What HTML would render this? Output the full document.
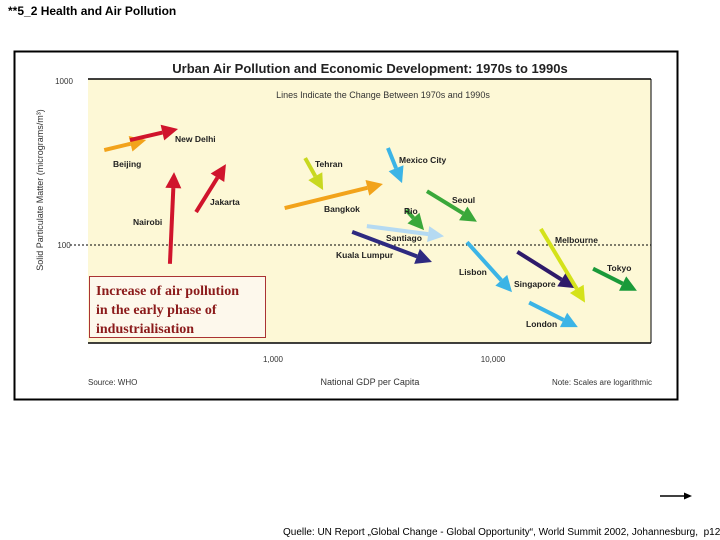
<!DOCTYPE html>
<html><head><meta charset="utf-8"><style>
body{margin:0;width:720px;height:540px;background:#fff;position:relative;overflow:hidden;font-family:"Liberation Sans",sans-serif}
.t{position:absolute;white-space:nowrap}
</style></head><body>
<div class="t" style="left:8px;top:4px;font-size:12px;font-weight:bold">**5_2 Health and Air Pollution</div>
<svg width="720" height="540" style="position:absolute;left:0;top:0">
<rect x="14.5" y="51.5" width="663" height="348" fill="#fff" stroke="#000" stroke-width="2"/>
<rect x="88" y="79" width="563" height="264" fill="#fdf8d6"/>
<line x1="88" y1="79" x2="651" y2="79" stroke="#000" stroke-width="1.5"/>
<line x1="88" y1="343" x2="651" y2="343" stroke="#000" stroke-width="1.5"/>
<line x1="651" y1="79" x2="651" y2="343" stroke="#000" stroke-width="1"/>
<line x1="70" y1="245" x2="651" y2="245" stroke="#000" stroke-dasharray="2,2"/>
<text x="370" y="73" text-anchor="middle" font-size="13" font-weight="bold" fill="#222">Urban Air Pollution and Economic Development: 1970s to 1990s</text>
<text x="383" y="98" text-anchor="middle" font-size="9" fill="#333">Lines Indicate the Change Between 1970s and 1990s</text>
<text transform="translate(43,190) rotate(-90)" text-anchor="middle" font-size="9" fill="#333">Solid Particulate Matter (micrograms/m³)</text>
<text x="64" y="84" text-anchor="middle" font-size="8" fill="#333">1000</text>
<text x="64" y="248" text-anchor="middle" font-size="8" fill="#333">100</text>
<text x="273" y="362" text-anchor="middle" font-size="8" fill="#333">1,000</text>
<text x="493" y="362" text-anchor="middle" font-size="8" fill="#333">10,000</text>
<text x="88" y="385" font-size="8" fill="#333">Source: WHO</text>
<text x="370" y="385" text-anchor="middle" font-size="9" fill="#333">National GDP per Capita</text>
<text x="652" y="385" text-anchor="end" font-size="8" fill="#333">Note: Scales are logarithmic</text>
<g id="arrows"></g>
<line x1="660" y1="496" x2="686" y2="496" stroke="#000" stroke-width="1.5"/>
<polygon points="692,496 684,492.5 684,499.5" fill="#000"/>
</svg>
<div class="t" style="left:89px;top:276px;width:177px;height:62px;border:1.5px solid #a33;background:#fdf8ec;font-family:'Liberation Serif',serif;font-weight:bold;font-size:14px;line-height:19px;color:#8b1a1a;padding:5px 0 0 6px;box-sizing:border-box">Increase of air pollution<br>in the early phase of<br>industrialisation</div>
<div class="t" style="left:283px;top:527px;font-size:10px">Quelle: UN Report „Global Change - Global Opportunity“, World Summit 2002, Johannesburg,&nbsp; p12</div>
<script>
const cities=["Beijing","New Delhi","Nairobi","Jakarta","Tehran","Bangkok","Mexico City","Rio","Seoul","Santiago","Kuala Lumpur","Lisbon","Singapore","Melbourne","Tokyo","London"];
const gdpStart=[171,224,340,447,1400,1130,3330,4030,5010,2670,2290,7620,12900,16500,28500,14600];
const gdpEnd=[265,370,355,611,1690,3160,3860,4860,8450,5990,5280,12200,23600,26200,45100,24300];
const pmStart=[373,429,77,158,334,167,384,163,211,130,120,104,91,125,72,45];
const pmEnd=[429,500,275,307,214,233,236,123,138,113,79,52,55,45,53,32];
const colors=["#f2a31b","#d0142c","#d0142c","#d0142c","#c8d820","#f2a31b","#3bb4e6","#3aa83a","#3aa83a","#b5daf2","#2e2a80","#3bb4e6","#2e1a6a","#d4e21a","#1a9a3a","#3bb4e6"];
const labelX=[113,175,133,210,315,324,399,404,452,386,336,459,514,555,607,526];
const labelY=[167,142,225,205,167,212,163,214,203,241,258,275,287,243,271,327];
function xS(v){return 273+220*Math.log10(v/1000);}
function yS(v){return 245-166*Math.log10(v/100);}
const g=document.getElementById('arrows');const NS="http://www.w3.org/2000/svg";
for(let i=0;i<cities.length;i++){
 const x1=xS(gdpStart[i]),y1=yS(pmStart[i]),x2=xS(gdpEnd[i]),y2=yS(pmEnd[i]);
 const dx=x2-x1,dy=y2-y1,L=Math.hypot(dx,dy),ux=dx/L,uy=dy/L,h=16,w=8;
 const bx=x2-ux*h,by=y2-uy*h;
 const ln=document.createElementNS(NS,'line');
 
 
 ln.setAttribute('x1',x1);ln.setAttribute('y1',y1);ln.setAttribute('x2',bx);ln.setAttribute('y2',by);
 ln.setAttribute('stroke',colors[i]);ln.setAttribute('stroke-width',4);g.appendChild(ln);
 const p=document.createElementNS(NS,'polygon');
 
 
 p.setAttribute('points',`${x2},${y2} ${bx-uy*w},${by+ux*w} ${bx+uy*w},${by-ux*w}`);
 p.setAttribute('fill',colors[i]);g.appendChild(p);
 const t=document.createElementNS(NS,'text');
 
 
 t.setAttribute('x',labelX[i]);t.setAttribute('y',labelY[i]);t.setAttribute('font-size','8.5');t.setAttribute('font-weight','bold');t.setAttribute('fill','#222');
 t.textContent=cities[i];g.appendChild(t);
}
</script>
</body></html>
